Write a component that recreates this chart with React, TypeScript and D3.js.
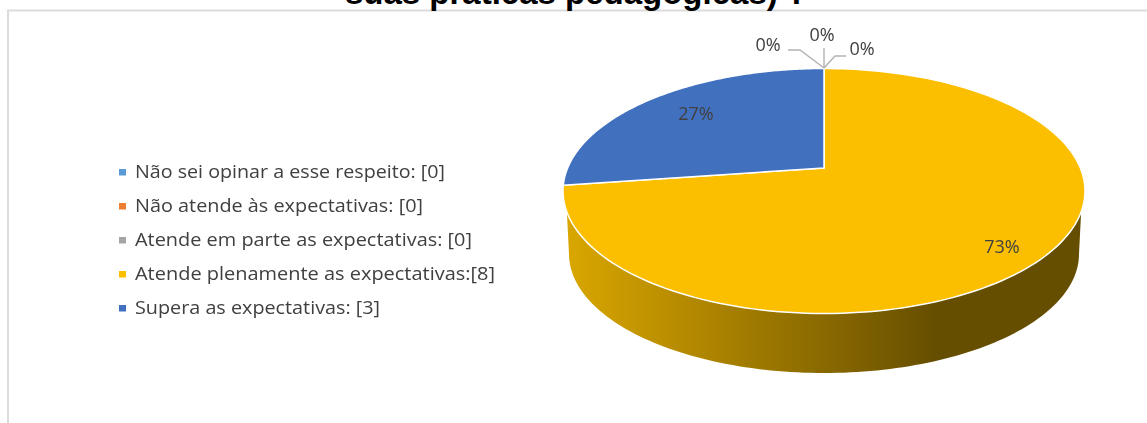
import React from "react";
import * as d3 from "d3";

const categories = [
  "Não sei opinar a esse respeito: [0]",
  "Não atende às expectativas: [0]",
  "Atende em parte as expectativas: [0]",
  "Atende plenamente as expectativas:[8]",
  "Supera as expectativas: [3]",
];
const values = [0, 0, 0, 8, 3];
const colors = ["#5b9bd5", "#ed7d31", "#a5a5a5", "#fbbf00", "#4170bf"];
const percentLabels = ["0%", "0%", "0%", "73%", "27%"];
const titleText = "suas práticas pedagógicas) ?";

const W = 1147, H = 423;
const cx = 824, cy = 191, rx = 261, ry = 122.5;
const apexY = 168;
const k = (cy - apexY) / ry; // perspective tilt of the disc
const legendTextWidths = [310, 288, 337, 360, 245];
const font = "'Open Sans','Noto Sans',sans-serif";

const slices = d3.pie<number>().sort(null).value((d) => d)(values);

// projective map of a circle to the drawn ellipse, moving its centre to the apex
function pt(a: number): [number, number] {
  const s = Math.sin(a), c = Math.cos(a);
  const den = 1 + k * c;
  return [cx + (rx * s * Math.sqrt(1 - k * k)) / den, cy - (ry * (c + k)) / den];
}
function arcPath(a0: number, a1: number) {
  const pts = d3.range(0, 161).map((i) => pt(a0 + ((a1 - a0) * i) / 160));
  return `M${cx},${apexY}L` + pts.map((p) => p.join(",")).join("L") + "Z";
}
const lowY = 254, lowRx = 255, lowRy = 119;
function wallPath() {
  const startT = Math.asin(21 / ry);
  const upper = d3.range(0, 121).map((i) => {
    const t = startT + ((Math.PI - 2 * startT) * i) / 120;
    return [cx + rx * Math.cos(t), cy + ry * Math.sin(t)];
  });
  const lower = d3.range(0, 121).map((i) => {
    const t = Math.PI - (Math.PI * i) / 120;
    return [cx + lowRx * Math.cos(t), lowY + lowRy * Math.sin(t)];
  });
  return "M" + upper.concat(lower).map((p) => p.join(",")).join("L") + "Z";
}

export default function App() {
  const yellow = slices[3], blue = slices[4];
  const legendY = d3.scalePoint<number>().domain(d3.range(5)).range([172, 308]);
  return (
    <svg width={W} height={H} style={{ position: "absolute", left: 0, top: 0, background: "#fff" }}>
      <defs>
        <linearGradient id="wall" x1={cx - lowRx} x2={cx + lowRx} y1="0" y2="0" gradientUnits="userSpaceOnUse">
          <stop offset="0" stopColor="#d9a600" />
          <stop offset="0.72" stopColor="#664e00" />
          <stop offset="1" stopColor="#664e00" />
        </linearGradient>
        <filter id="soft" x="-5%" y="-20%" width="110%" height="140%">
          <feGaussianBlur stdDeviation="0.45" />
        </filter>
      </defs>
      <path d="M8,423V10.5H1147" fill="none" stroke="#dcdcdc" strokeWidth={2} />
      <text x={576} y={4} textAnchor="middle" fontFamily="'Liberation Sans',Arial,sans-serif" fontWeight="bold" fontSize={33} fill="#000">{titleText}</text>
      <path d={wallPath()} fill="url(#wall)" />
      <path d={arcPath(yellow.startAngle, yellow.endAngle)} fill={colors[3]} stroke="#fff" strokeWidth={1.5} />
      <path d={arcPath(blue.startAngle, blue.endAngle)} fill={colors[4]} stroke="#fff" strokeWidth={1.5} />
      <path d={`M788,50H800L${cx},68M${cx},48V68M${cx},68L835,56H846`} fill="none" stroke="#b3b3b3" strokeWidth={1.4} />
      <g fontFamily={font} fontSize={18} fill="#404040" textAnchor="middle" filter="url(#soft)">
        <text x={768} y={50.5}>{percentLabels[0]}</text>
        <text x={822} y={41}>{percentLabels[1]}</text>
        <text x={862} y={54.5}>{percentLabels[2]}</text>
        <text x={1002} y={252.5}>{percentLabels[3]}</text>
        <text x={696} y={119.5}>{percentLabels[4]}</text>
      </g>
      {categories.map((c, i) => (
        <g key={c}>
          <rect x={119} y={legendY(i)! - 3} width={7} height={6.5} fill={colors[i]} />
          <text x={135} y={legendY(i)! + 6} fontFamily={font} fontSize={18} fill="#404040" textLength={legendTextWidths[i]} lengthAdjust="spacingAndGlyphs" filter="url(#soft)">{c}</text>
        </g>
      ))}
    </svg>
  );
}
